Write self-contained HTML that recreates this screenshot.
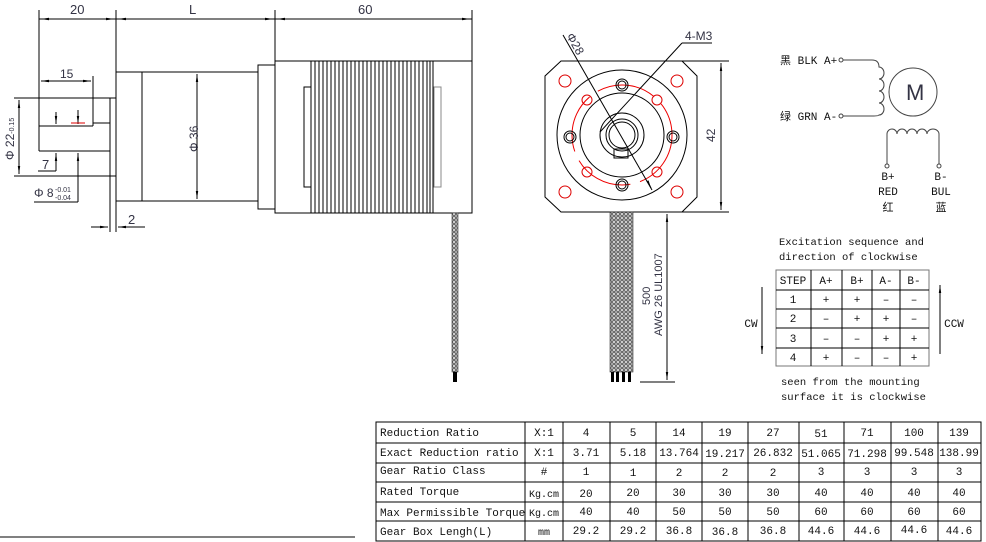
<!DOCTYPE html>
<html><head><meta charset="utf-8"><style>
html,body{margin:0;padding:0;background:#fff;}
svg{display:block;}
text{font-family:"Liberation Mono","Noto Sans CJK SC",monospace;fill:#111;}
.d{font-family:"Liberation Sans",sans-serif;fill:#334;}
</style></head><body>
<svg width="986" height="542" viewBox="0 0 986 542" xmlns="http://www.w3.org/2000/svg">
<defs>
<pattern id="br" width="4" height="4" patternUnits="userSpaceOnUse">
<rect width="4" height="4" fill="#aaa"/><circle cx="2" cy="2" r="1.3" fill="#fff" stroke="#333" stroke-width="0.6"/>
</pattern>
<marker id="a" viewBox="0 0 10 10" refX="10" refY="5" markerWidth="8" markerHeight="8" orient="auto-start-reverse"><path d="M0,3.5 L10,5 L0,6.5z" fill="#000"/></marker>
</defs>
<g stroke="#000" stroke-width="1" fill="none">
<!-- top dims -->
<line x1="39" y1="19" x2="472" y2="19"/>
<line x1="39" y1="10" x2="39" y2="151"/>
<line x1="116" y1="10" x2="116" y2="232"/>
<line x1="275" y1="10" x2="275" y2="61"/>
<line x1="472" y1="10" x2="472" y2="61"/>
<!-- motor body -->
<rect x="275" y="61" width="197" height="152"/>
<rect x="304" y="87" width="7" height="100"/>
<rect x="434" y="87" width="7" height="100" stroke="#888"/>
<path d="M311,61V213 M315,61V213 M319,61V213 M323,61V213 M327,61V213 M331,61V213 M335,61V213 M339,61V213 M343,61V213 M347,61V213 M351,61V213 M355,61V213 M359,61V213 M363,61V213 M367,61V213 M371,61V213 M375,61V213 M379,61V213 M383,61V213 M387,61V213 M391,61V213 M395,61V213 M399,61V213 M403,61V213 M407,61V213 M411,61V213 M415,61V213 M419,61V213 M423,61V213 M427,61V213 M430,61V213 M433,61V213"/>
<rect x="258" y="65" width="17" height="144"/>
<rect x="116" y="72" width="142" height="129"/>
<line x1="142" y1="72" x2="142" y2="201"/>
<line x1="197" y1="74" x2="197" y2="199" marker-start="url(#a)" marker-end="url(#a)"/>
<!-- shaft area -->
<line x1="14" y1="98" x2="116" y2="98"/>
<line x1="14" y1="176" x2="116" y2="176"/>
<line x1="110" y1="98" x2="110" y2="232"/>
<line x1="39" y1="126" x2="93" y2="126"/>
<line x1="93" y1="76" x2="93" y2="126"/>
<line x1="93" y1="123" x2="110" y2="123"/>
<line x1="39" y1="151" x2="110" y2="151"/>
<line x1="41" y1="81" x2="91" y2="81" marker-start="url(#a)" marker-end="url(#a)"/>
<line x1="19" y1="100" x2="19" y2="174" marker-start="url(#a)" marker-end="url(#a)"/>
<line x1="56" y1="112" x2="56" y2="124" marker-end="url(#a)"/>
<line x1="56" y1="171" x2="56" y2="153" marker-end="url(#a)"/>
<line x1="38" y1="171" x2="56" y2="171"/>
<line x1="78" y1="110" x2="78" y2="124" marker-end="url(#a)"/>
<line x1="78" y1="202" x2="78" y2="153" marker-end="url(#a)"/>
<line x1="34" y1="202" x2="78" y2="202"/>
<line x1="71" y1="123" x2="85" y2="123" stroke="#d00"/>
<line x1="91" y1="227" x2="108" y2="227" marker-end="url(#a)"/>
<line x1="145" y1="227" x2="118" y2="227" marker-end="url(#a)"/>
<line x1="41" y1="19" x2="114" y2="19" marker-start="url(#a)" marker-end="url(#a)"/>
<line x1="118" y1="19" x2="273" y2="19" marker-start="url(#a)" marker-end="url(#a)"/>
<line x1="277" y1="19" x2="470" y2="19" marker-start="url(#a)" marker-end="url(#a)"/>
</g>
<rect x="452" y="213" width="6" height="159" fill="url(#br)" stroke="#333" stroke-width="0.6"/>
<rect x="453" y="372" width="4" height="10" fill="#000"/>
<text class="d" x="70" y="14" font-size="13">20</text>
<text class="d" x="189" y="14" font-size="13">L</text>
<text class="d" x="358" y="14" font-size="13">60</text>
<text class="d" x="60" y="78" font-size="12">15</text>
<text class="d" x="42" y="169" font-size="13">7</text>
<text class="d" x="128" y="224" font-size="13">2</text>
<text class="d" x="34" y="197" font-size="12">Φ 8</text>
<text class="d" x="55" y="192" font-size="7">-0.01</text>
<text class="d" x="55" y="200" font-size="7">-0.04</text>
<text class="d" font-size="12" transform="translate(14,160) rotate(-90)">Φ 22<tspan font-size="7">-0.15</tspan></text>
<text class="d" font-size="12" transform="translate(198,152) rotate(-90)">Φ 36</text>

<!-- front view -->
<g stroke="#000" stroke-width="1" fill="none">
<path d="M561,61 H682 L697,76 V197 L682,212 H561 L545,197 V76 Z"/>
<line x1="682" y1="61" x2="729" y2="61"/>
<line x1="682" y1="212" x2="729" y2="212"/>
<line x1="721" y1="63" x2="721" y2="210" marker-start="url(#a)" marker-end="url(#a)"/>
<circle cx="622" cy="135" r="65"/>
<circle cx="622" cy="135" r="42"/>
<circle cx="622" cy="135" r="22"/>
<circle cx="622" cy="135" r="16"/>
<circle cx="622" cy="135" r="13"/>
<rect x="614" y="149" width="14" height="9"/>
<circle cx="622" cy="135" r="50" stroke="#e00" stroke-dasharray="60 10"/>
<g stroke="#d00"><circle cx="565" cy="81" r="6"/><circle cx="677" cy="81" r="6"/><circle cx="565" cy="192" r="6"/><circle cx="677" cy="192" r="6"/>
<circle cx="587" cy="100" r="5"/><circle cx="657" cy="100" r="5"/><circle cx="587" cy="172" r="5"/><circle cx="657" cy="172" r="5"/></g>
<circle cx="622" cy="85" r="6"/><circle cx="622" cy="85" r="4"/>
<circle cx="622" cy="185" r="6"/><circle cx="622" cy="185" r="4"/>
<circle cx="570" cy="137" r="6"/><circle cx="570" cy="137" r="4"/>
<circle cx="673" cy="137" r="6"/><circle cx="673" cy="137" r="4"/>
<line x1="563" y1="35" x2="652" y2="190"/>
<line x1="648" y1="182" x2="651" y2="188" marker-end="url(#a)"/>
<line x1="682" y1="43" x2="712" y2="43"/>
<line x1="682" y1="43" x2="600" y2="132"/>
<line x1="667" y1="214" x2="667" y2="380" marker-start="url(#a)" marker-end="url(#a)"/>
<line x1="640" y1="382" x2="675" y2="382"/>
</g>
<rect x="610" y="212" width="23" height="160" fill="url(#br)" stroke="#333" stroke-width="0.6"/>
<g fill="#000"><rect x="611" y="372" width="3" height="10"/><rect x="616" y="372" width="3" height="10"/><rect x="622" y="372" width="3" height="10"/><rect x="628" y="372" width="3" height="10"/></g>
<text class="d" x="685" y="40" font-size="12" font-family="Liberation Serif">4-M3</text>
<text class="d" font-size="12" transform="translate(566,36) rotate(60)">Φ28</text>
<text class="d" font-size="12" transform="translate(715,142) rotate(-90)">42</text>
<text class="d" font-size="11" transform="translate(650,305) rotate(-90)">500</text>
<text class="d" font-size="11" transform="translate(662,336) rotate(-90)" font-family="Liberation Serif">AWG 26 UL1007</text>

<!-- wiring -->
<g stroke="#444" stroke-width="1" fill="none">
<circle cx="841" cy="60" r="2"/><circle cx="841" cy="116" r="2"/>
<path d="M843,60 H872 Q879,60 879,67 a5,6 0 0 1 0,12 a5,6 0 0 1 0,12 a5,6 0 0 1 0,12 a5,6 0 0 1 0,12 Q879,116 872,116 H843"/>
<circle cx="913" cy="92" r="24"/>
<path d="M887,164 V134 a5,5 0 0 1 10,0 a5,5 0 0 1 10,0 a5,5 0 0 1 10,0 a5,5 0 0 1 10,0 a6,5 0 0 1 12,0 V164"/>
<circle cx="887" cy="166" r="2"/><circle cx="939" cy="166" r="2"/>
</g>
<text class="d" x="906" y="100" font-size="22" fill="#444">M</text>
<text x="780" y="64" font-size="11" font-family="Liberation Serif,Noto Serif CJK SC,serif">黑 BLK A+</text>
<text x="780" y="120" font-size="11" font-family="Liberation Serif,Noto Serif CJK SC,serif">绿 GRN A-</text>
<g font-size="11" font-family="Liberation Serif,Noto Serif CJK SC,serif" text-anchor="middle">
<text x="888" y="180">B+</text><text x="888" y="195">RED</text><text x="888" y="211">红</text>
<text x="941" y="180">B-</text><text x="941" y="195">BUL</text><text x="941" y="211">蓝</text>
</g>

<!-- excitation -->
<text x="779" y="245" font-size="10.5">Excitation sequence and</text>
<text x="779" y="260" font-size="10.5">direction of clockwise</text>
<text x="781" y="385" font-size="10.5">seen from the mounting</text>
<text x="781" y="400" font-size="10.5">surface it is clockwise</text>
<g stroke="#000" fill="none">
<rect x="776" y="270" width="153" height="96" stroke="#777"/>
<path d="M776,290H929 M776,309H929 M776,328H929 M776,348H929 M811,270V366 M842,270V366 M872,270V366 M900,270V366"/>
<line x1="762" y1="287" x2="762" y2="354" marker-end="url(#a)"/>
<line x1="940" y1="354" x2="940" y2="285" marker-end="url(#a)"/>
</g>
<g font-size="11" font-family="Liberation Serif,serif" text-anchor="middle">
<text x="793" y="284">STEP</text><text x="826" y="284">A+</text><text x="857" y="284">B+</text><text x="886" y="284">A-</text><text x="914" y="284">B-</text>
<text x="793" y="303">1</text><text x="826" y="303">+</text><text x="857" y="303">+</text><text x="886" y="303">–</text><text x="914" y="303">–</text>
<text x="793" y="322">2</text><text x="826" y="322">–</text><text x="857" y="322">+</text><text x="886" y="322">+</text><text x="914" y="322">–</text>
<text x="793" y="342">3</text><text x="826" y="342">–</text><text x="857" y="342">–</text><text x="886" y="342">+</text><text x="914" y="342">+</text>
<text x="793" y="361">4</text><text x="826" y="361">+</text><text x="857" y="361">–</text><text x="886" y="361">–</text><text x="914" y="361">+</text>
<text x="751" y="327">CW</text><text x="954" y="327">CCW</text>
</g>

<!-- bottom table -->
<line x1="0" y1="537" x2="355" y2="537" stroke="#000"/>
<g stroke="#000" fill="none">
<rect x="376" y="422" width="605" height="119"/>
<path d="M376,443H981 M376,463H981 M376,482H981 M376,502H981 M376,521H981 M525,422V541 M563,422V541 M610,422V541 M656,422V541 M702,422V541 M748,422V541 M799,422V541 M844,422V541 M891,422V541 M938,422V541"/>
</g>
<g font-size="11">
<text x="380" y="436">Reduction Ratio</text>
<text x="380" y="456">Exact Reduction ratio</text>
<text x="380" y="474">Gear Ratio Class</text>
<text x="380" y="495">Rated Torque</text>
<text x="380" y="516">Max Permissible Torque</text>
<text x="380" y="535">Gear Box Lengh(L)</text>
</g>
<g font-size="11" text-anchor="middle" font-family="Liberation Serif,serif">
<text x="544" y="436">X:1</text><text x="586" y="436">4</text><text x="633" y="436">5</text><text x="679" y="436">14</text><text x="725" y="436">19</text><text x="773" y="436">27</text><text x="821" y="437">51</text><text x="867" y="436">71</text><text x="914" y="436">100</text><text x="959" y="436">139</text>
<text x="544" y="456">X:1</text><text x="586" y="456">3.71</text><text x="633" y="456">5.18</text><text x="679" y="456">13.764</text><text x="725" y="457">19.217</text><text x="773" y="456">26.832</text><text x="821" y="457">51.065</text><text x="867" y="457">71.298</text><text x="914" y="456">99.548</text><text x="959" y="456">138.99</text>
<text x="544" y="475">#</text><text x="586" y="475">1</text><text x="633" y="476">1</text><text x="679" y="476">2</text><text x="725" y="476">2</text><text x="773" y="476">2</text><text x="821" y="475">3</text><text x="867" y="475">3</text><text x="914" y="475">3</text><text x="959" y="475">3</text>
<text x="544" y="497" font-size="10">Kg.cm</text><text x="586" y="497">20</text><text x="633" y="496">20</text><text x="679" y="496">30</text><text x="725" y="496">30</text><text x="773" y="496">30</text><text x="821" y="496">40</text><text x="867" y="496">40</text><text x="914" y="496">40</text><text x="959" y="496">40</text>
<text x="544" y="516" font-size="10">Kg.cm</text><text x="586" y="515">40</text><text x="633" y="515">40</text><text x="679" y="515">50</text><text x="725" y="515">50</text><text x="773" y="515">50</text><text x="821" y="515">60</text><text x="867" y="515">60</text><text x="914" y="515">60</text><text x="959" y="515">60</text>
<text x="544" y="535" font-size="10">mm</text><text x="586" y="534">29.2</text><text x="633" y="534">29.2</text><text x="679" y="534">36.8</text><text x="725" y="535">36.8</text><text x="773" y="534">36.8</text><text x="821" y="534">44.6</text><text x="867" y="534">44.6</text><text x="914" y="533">44.6</text><text x="959" y="534">44.6</text>
</g>
</svg>
</body></html>
